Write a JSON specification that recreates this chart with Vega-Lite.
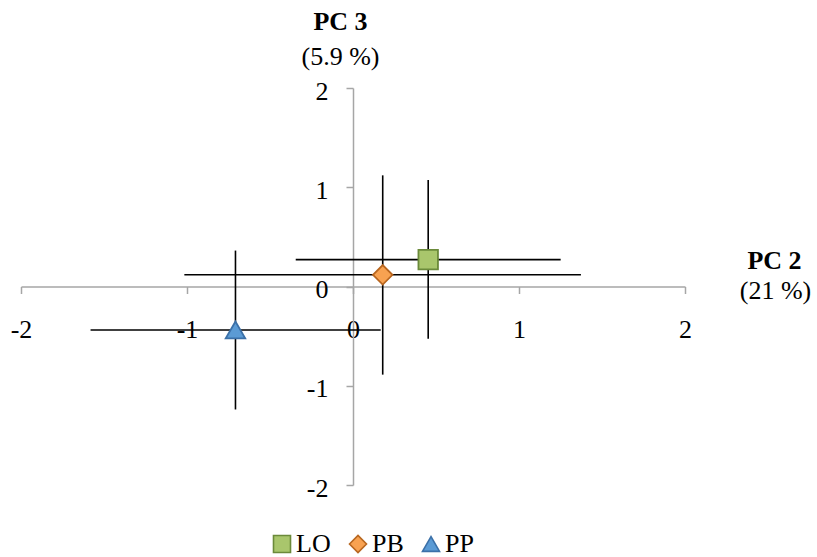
{
  "$schema": "https://vega.github.io/schema/vega-lite/v6.json",
  "autosize": {"type": "none"},
  "padding": {"left": 21, "top": 88, "right": 132, "bottom": 72},
  "width": 664,
  "height": 397,
  "background": "white",
  "data": {
    "values": [
      {"group": "LO", "x": 0.453, "y": 0.271, "xlo": -0.345, "xhi": 1.251, "ylo": -0.526, "yhi": 1.072},
      {"group": "PB", "x": 0.179, "y": 0.118, "xlo": -1.016, "xhi": 1.373, "ylo": -0.888, "yhi": 1.12},
      {"group": "PP", "x": -0.708, "y": -0.438, "xlo": -1.581, "xhi": 0.167, "ylo": -1.239, "yhi": 0.362}
    ]
  },
  "config": {
    "view": {"stroke": null},
    "axis": {
      "grid": false,
      "domainColor": "#a6a6a6",
      "domainWidth": 1.5,
      "tickColor": "#a6a6a6",
      "tickWidth": 1.5,
      "tickSize": 7,
      "labelFont": "Liberation Serif",
      "labelFontSize": 26,
      "labelColor": "#000000",
      "titleFont": "Liberation Serif",
      "titleFontSize": 26,
      "titleColor": "#000000",
      "labelFlush": false,
      "labelOverlap": false,
      "labelExpr": "'' + datum.value"
    },
    "legend": {
      "labelFont": "Liberation Serif",
      "labelFontSize": 26,
      "labelColor": "#000000"
    }
  },
  "resolve": {"axis": {"x": "independent", "y": "independent"}},
  "layer": [
    {
      "mark": {"type": "rule", "color": "#000000", "strokeWidth": 1.6},
      "encoding": {
        "x": {
          "field": "xlo", "type": "quantitative",
          "scale": {"domain": [-2, 2], "nice": false, "zero": false},
          "axis": {
            "orient": "bottom", "offset": -198.5, "values": [-2, -1, 0, 1, 2],
            "labelPadding": 23, "title": "PC 2", "titleFontWeight": "bold",
            "titleAngle": 0, "titleX": 753, "titleY": -26, "titleAlign": "center", "titleBaseline": "middle"
          }
        },
        "x2": {"field": "xhi"},
        "y": {
          "field": "y", "type": "quantitative",
          "scale": {"domain": [-2, 2], "nice": false, "zero": false},
          "axis": {
            "orient": "left", "offset": -332, "values": [-2, -1, 0, 1, 2],
            "labelPadding": 18, "labelOffset": 3, "title": "PC 3", "titleFontWeight": "bold",
            "titleAngle": 0, "titleX": -13, "titleY": -67, "titleAlign": "center", "titleBaseline": "middle"
          }
        }
      }
    },
    {
      "mark": {"type": "rule", "color": "#000000", "strokeWidth": 1.6},
      "encoding": {
        "x": {
          "field": "x", "type": "quantitative",
          "axis": {
            "orient": "bottom", "offset": -198.5, "domain": false, "ticks": false, "labels": false,
            "title": "(21 %)", "titleFontWeight": "normal",
            "titleAngle": 0, "titleX": 754, "titleY": 4, "titleAlign": "center", "titleBaseline": "middle"
          }
        },
        "y": {
          "field": "ylo", "type": "quantitative",
          "axis": {
            "orient": "left", "offset": -332, "domain": false, "ticks": false, "labels": false,
            "title": "(5.9 %)", "titleFontWeight": "normal",
            "titleAngle": 0, "titleX": -13, "titleY": -32, "titleAlign": "center", "titleBaseline": "middle"
          }
        },
        "y2": {"field": "yhi"}
      }
    },
    {
      "mark": {"type": "point", "filled": true, "opacity": 1, "strokeWidth": 1.8, "size": 380},
      "encoding": {
        "x": {"field": "x", "type": "quantitative", "axis": null},
        "y": {"field": "y", "type": "quantitative", "axis": null},
        "shape": {
          "field": "group", "type": "nominal",
          "scale": {"domain": ["LO", "PB", "PP"], "range": ["square", "diamond", "triangle-up"]},
          "legend": {
            "title": null, "orient": "none", "direction": "horizontal",
            "legendX": 248, "legendY": 443, "symbolSize": 289, "symbolStrokeWidth": 1.6,
            "labelOffset": 1, "columnPadding": 14
          }
        },
        "fill": {
          "field": "group", "type": "nominal",
          "scale": {"domain": ["LO", "PB", "PP"], "range": ["#a9c66c", "#f8a251", "#5b9bd5"]},
          "legend": {
            "title": null, "orient": "none", "direction": "horizontal",
            "legendX": 248, "legendY": 443, "symbolSize": 289, "symbolStrokeWidth": 1.6,
            "labelOffset": 1, "columnPadding": 14
          }
        },
        "stroke": {
          "field": "group", "type": "nominal",
          "scale": {"domain": ["LO", "PB", "PP"], "range": ["#6b8a3a", "#b8661f", "#3b70a8"]},
          "legend": {
            "title": null, "orient": "none", "direction": "horizontal",
            "legendX": 248, "legendY": 443, "symbolSize": 289, "symbolStrokeWidth": 1.6,
            "labelOffset": 1, "columnPadding": 14
          }
        }
      }
    }
  ]
}
